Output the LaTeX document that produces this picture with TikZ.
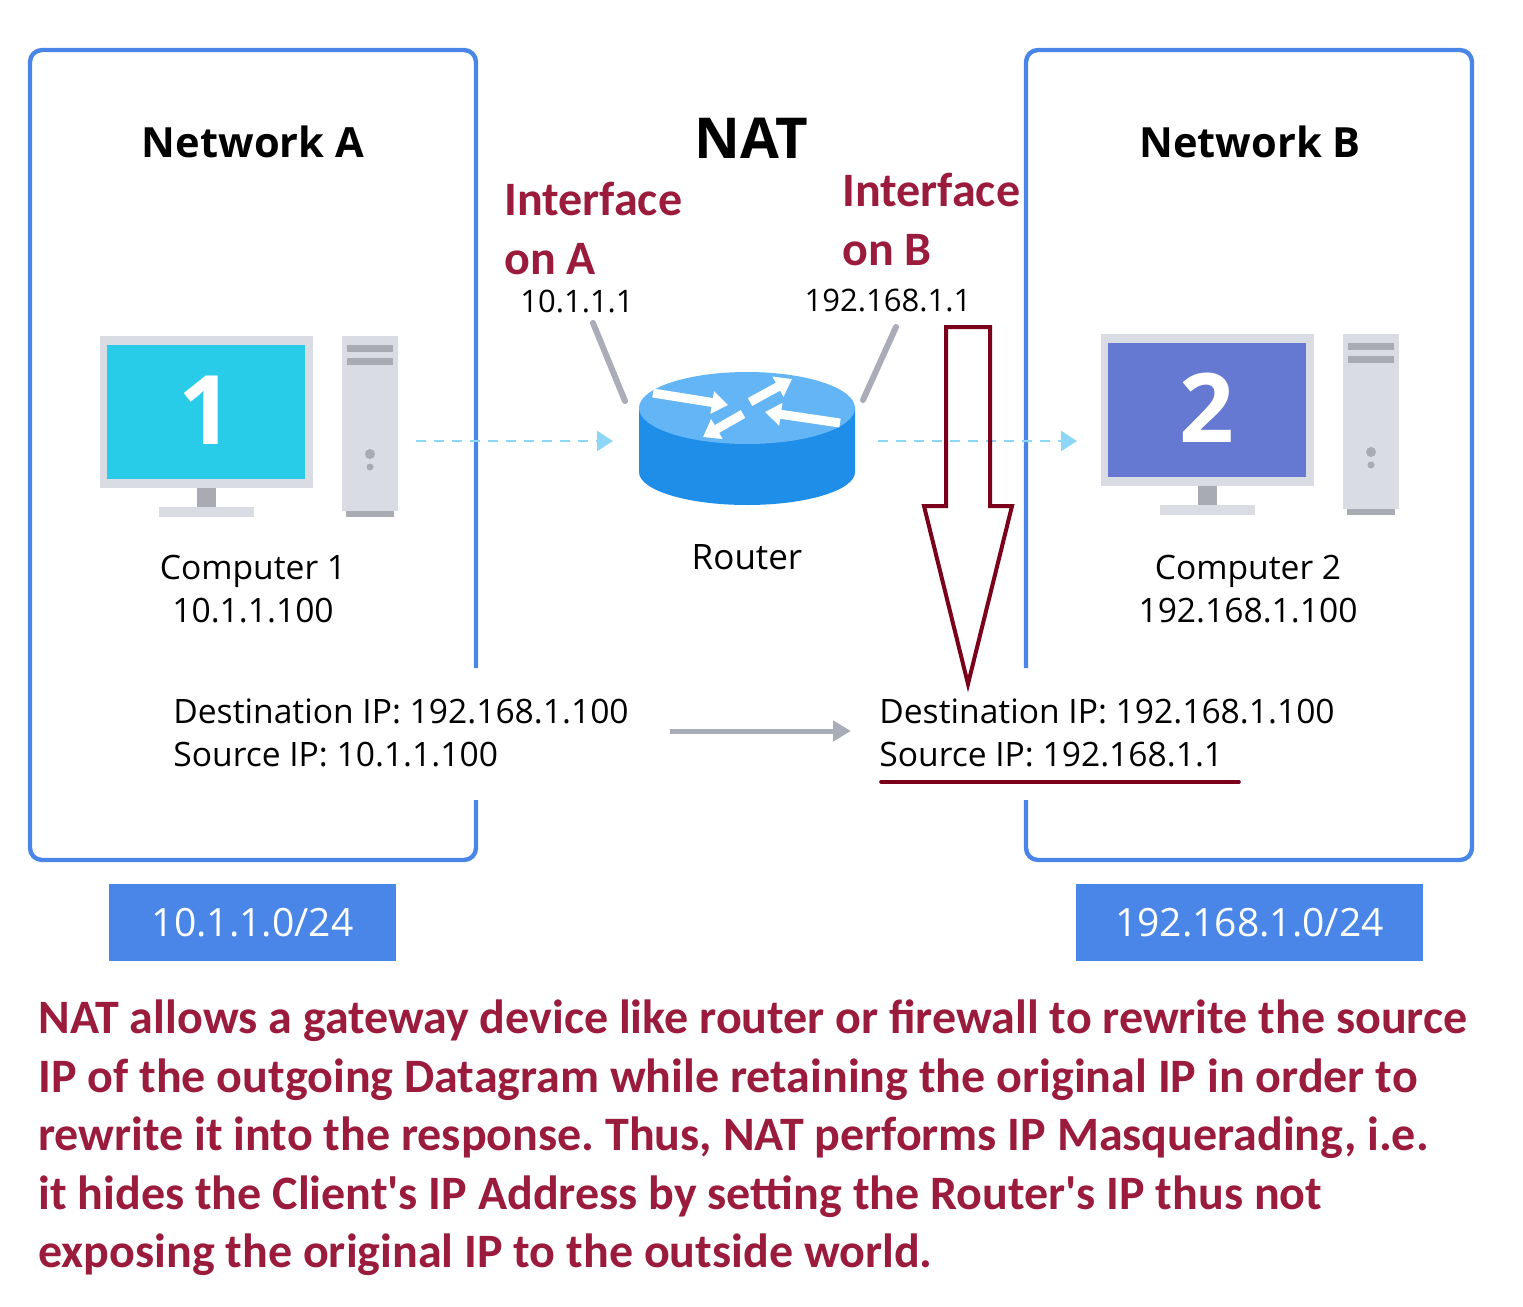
\documentclass[tikz,border=0pt]{standalone}
\usepackage{fontspec}
\setmainfont{Open Sans}
\newfontfamily\notefont{Carlito}
\usetikzlibrary{arrows.meta}
\definecolor{netblue}{HTML}{4A86E8}
\definecolor{notered}{HTML}{9A1B3C}
\definecolor{markred}{HTML}{7B0019}
\definecolor{skyline}{HTML}{8DD6F5}
\definecolor{greyline}{HTML}{A9ADB8}
\definecolor{caseface}{HTML}{D9DDE3}
\definecolor{caseslot}{HTML}{A8ABB2}
\definecolor{routertop}{HTML}{64B5F6}
\definecolor{routerside}{HTML}{1F8EE9}
\tikzset{
    netbox/.style={line width=2.2pt, netblue, rounded corners=6pt},
    nettitle/.style={font=\fontsize{20.8}{24}\selectfont\bfseries},
    body/.style={font=\fontsize{16.8}{21.5}\selectfont, align=center},
    ifaddr/.style={font=\fontsize{15.5}{20}\selectfont},
    notehead/.style={font=\notefont\fontsize{24}{29.25}\selectfont\bfseries\frenchspacing, text=notered, align=left, anchor=west, inner sep=0pt},
    subnet/.style={fill=netblue, text=white, font=\fontsize{19.5}{22}\selectfont, minimum height=38.5pt, inner sep=0pt},
    flow/.style={skyline, line width=1.2pt, dash pattern=on 5pt off 4pt, -{Triangle[length=8pt,width=10pt]}},
    routerarrow/.style={white, line width=4.5pt, -{Triangle[length=8pt,width=11pt]}},
    antenna/.style={greyline, line width=3pt, line cap=round},
}
\begin{document}
\begin{tikzpicture}[x=0.5pt, y=-0.5pt]
    \useasboundingbox (0,0) rectangle (1523,1307);

    % Network A and Network B
    \draw[netbox] (476,668) -- (476,50) -- (30,50) -- (30,860) -- (476,860) -- (476,800);
    \draw[netbox] (1026,668) -- (1026,50) -- (1472,50) -- (1472,860) -- (1026,860) -- (1026,800);
    \node[nettitle] (titleA) at (253,142) {Network A};
    \node[nettitle] (titleB) at (1250,142) {Network B};
    \node[font=\fontsize{28.2}{34}\selectfont\bfseries] (nat) at (751,138) {NAT};

    % Computers
    \foreach \cx/\cy/\screen/\num in {0/0/29CCE8/1, 1001/-2/6578D2/2} {
        \begin{scope}[shift={(\cx,\cy)}]
            \definecolor{screencol}{HTML}{\screen}
            \fill[caseface] (100,336) rectangle (313,488);
            \fill[screencol] (107,345) rectangle (305,479);
            \fill[caseslot] (197,488) rectangle (216,507);
            \fill[caseface] (159,507) rectangle (254,517);
            \fill[caseface] (342,336) rectangle (398,511);
            \fill[caseslot] (346,511) rectangle (394,517);
            \fill[caseslot] (347,345) rectangle (393,352);
            \fill[caseslot] (347,358) rectangle (393,365);
            \fill[caseslot] (370,454) circle (5);
            \fill[caseslot] (370,467) circle (3.5);
            \node[text=white, font=\fontsize{48}{48}\selectfont\bfseries] (digit\num) at (206,410) {\num};
        \end{scope}
    }
    \node[body] (compA) at (253,589) {Computer 1\\10.1.1.100};
    \node[body] (compB) at (1248,589) {Computer 2\\192.168.1.100};

    % Router
    \fill[routerside] (639,408) -- (639,472) arc[start angle=180, end angle=0, x radius=108, y radius=33] -- (855,408) -- cycle;
    \fill[routertop] (747,408) ellipse (108 and 36);
    \draw[routerarrow] (653,393) -- (728,405);
    \draw[routerarrow] (750,402) -- (792,379);
    \draw[routerarrow] (840,423) -- (765,412);
    \draw[routerarrow] (743,414) -- (703,437);
    \node[body, font=\fontsize{17.5}{21.5}\selectfont] (router) at (747,557) {Router};

    % Interfaces
    \coordinate (antAtop) at (593,323);
    \coordinate (antAend) at (625,401);
    \coordinate (antBtop) at (896,327);
    \coordinate (antBend) at (863,400);
    \draw[antenna] (antAtop) -- (antAend);
    \draw[antenna] (antBtop) -- (antBend);
    \node[notehead] (ifaceA) at (504,228.5) {Interface\\on A};
    \node[notehead] (ifaceB) at (842,219.5) {Interface\\on B};
    \node[ifaddr] (ipA) at (577,301) {10.1.1.1};
    \node[ifaddr] (ipB) at (888,300) {192.168.1.1};

    % Flow
    \coordinate (flowAin) at (416,441);
    \coordinate (flowAout) at (613,441);
    \coordinate (flowBin) at (878,441);
    \coordinate (flowBout) at (1077,441);
    \draw[flow] (flowAin) -- (flowAout);
    \draw[flow] (flowBin) -- (flowBout);

    % Packets
    \node[body, align=left, anchor=west, inner sep=0pt] (pktA) at (173,733) {Destination IP: 192.168.1.100\\Source IP: 10.1.1.100};
    \node[body, align=left, anchor=west, inner sep=0pt] (pktB) at (879,733) {Destination IP: 192.168.1.100\\Source IP: 192.168.1.1};
    \coordinate (natIn) at (670,731);
    \coordinate (natOut) at (851,731);
    \draw[greyline, line width=2.5pt, -{Triangle[length=9pt,width=10pt]}] (natIn) -- (natOut);

    % Marker
    \draw[markred, line width=2pt] (946,327) -- (990,327) -- (990,506) -- (1012,506) -- (968,684) -- (924,506) -- (946,506) -- cycle;
    \coordinate (markL) at (881,782);
    \coordinate (markR) at (1239,782);
    \draw[markred, line width=1.8pt, line cap=round] (markL) -- (markR);

    % Subnets
    \node[subnet, minimum width=143.5pt] (netA) at (252.5,922.5) {10.1.1.0/24};
    \node[subnet, minimum width=173.5pt] (netB) at (1249.5,922.5) {192.168.1.0/24};

    % Note
    \node[notehead, align=left] (note) at (38,1138) {NAT allows a gateway device like router or firewall to rewrite the source\\IP of the outgoing Datagram while retaining the original IP in order to\\rewrite it into the response. Thus, NAT performs IP Masquerading, i.e.\\it hides the Client's IP Address by setting the Router's IP thus not\\exposing the original IP to the outside world.};
\end{tikzpicture}
\end{document}
